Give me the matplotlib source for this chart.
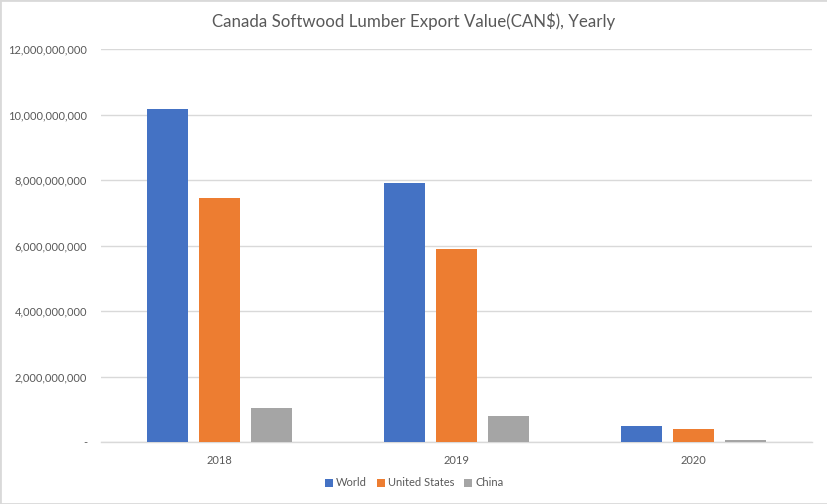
"""Canada softwood lumber export value by destination, clustered bar chart."""
import matplotlib.pyplot as plt
import numpy as np
from matplotlib.patches import Rectangle
from matplotlib.ticker import FuncFormatter

years = ["2018", "2019", "2020"]
world = [10.16e9, 7.91e9, 0.49e9]
united_states = [7.44e9, 5.89e9, 0.40e9]
china = [1.04e9, 0.79e9, 0.05e9]

series = [
    ("World", world, "#4472C4"),
    ("United States", united_states, "#ED7D31"),
    ("China", china, "#A5A5A5"),
]

plt.rcParams["font.family"] = ["Lato", "DejaVu Sans"]
TEXT = "#595959"
GRID = "#D9D9D9"

fig = plt.figure(figsize=(8.28, 5.04), dpi=100)
ax = fig.add_axes([101 / 828, (504 - 442) / 504, 711 / 828, 393 / 504])

x = np.arange(len(years))
width = 0.174
step = 0.221
for i, (name, values, color) in enumerate(series):
    ax.bar(x + (i - 1) * step, values, width, color=color, label=name, zorder=3)

ax.set_xlim(-0.5, len(years) - 0.5)
ax.set_ylim(0, 12e9)
ax.set_yticks(np.arange(0, 12e9 + 1, 2e9))
ax.yaxis.set_major_formatter(
    FuncFormatter(lambda v, _: "-" if v == 0 else f"{v:,.0f}")
)
ax.set_xticks(x)
ax.set_xticklabels(years)
ax.tick_params(length=0, colors=TEXT, labelsize=8)
ax.tick_params(axis="y", pad=10)
ax.tick_params(axis="x", pad=9)

ax.grid(axis="y", color=GRID, linewidth=1, zorder=0)
for side in ("top", "right", "left"):
    ax.spines[side].set_visible(False)
ax.spines["bottom"].set_color(GRID)
ax.spines["bottom"].set_linewidth(1)

fig.suptitle(
    "Canada Softwood Lumber Export Value(CAN$), Yearly",
    y=1 - 21 / 504, va="center", color=TEXT, fontsize=12.2,
)
fig.legend(
    loc="center", bbox_to_anchor=(0.5, 21 / 504), ncol=3, frameon=False,
    fontsize=8, labelcolor=TEXT, handlelength=0.75, handleheight=0.75,
    handletextpad=0.25, columnspacing=0.9,
)

fig.patches.append(
    Rectangle((0, 0), 1, 1, transform=fig.transFigure, fill=False,
              edgecolor=GRID, linewidth=2)
)

fig.savefig("out.png", dpi=100)
